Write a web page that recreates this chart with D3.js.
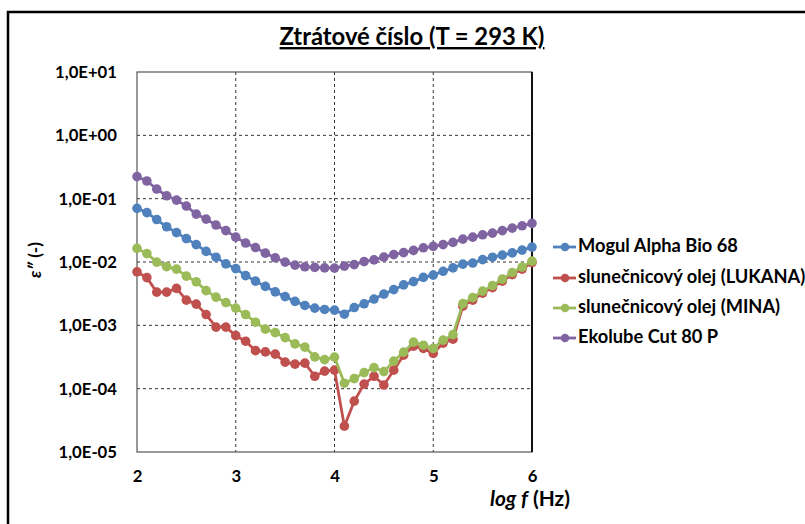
<!DOCTYPE html>
<html><head><meta charset="utf-8">
<script src="https://cdn.jsdelivr.net/npm/d3@7"></script>
<style>body{margin:0;background:#fff;} svg{display:block;}</style>
</head><body>
<script>
const logF = d3.range(0, 41).map(i => +(2 + i * 0.1).toFixed(1));
const mogul = [0.0703,0.0603,0.0468,0.0360,0.0291,0.0234,0.0188,0.0147,0.0119,0.00933,0.00787,0.00610,0.00499,0.00412,0.00338,0.00284,0.00239,0.00206,0.00187,0.00178,0.00174,0.00150,0.00191,0.00219,0.00260,0.00311,0.00366,0.00435,0.00490,0.00571,0.00621,0.00713,0.00807,0.00927,0.00962,0.01091,0.0119,0.01285,0.01393,0.01542,0.01718];
const lukana = [0.00700,0.00567,0.00334,0.00334,0.00383,0.00250,0.00216,0.00148,0.000937,0.000937,0.000687,0.000562,0.000398,0.000381,0.000351,0.000262,0.000244,0.000253,0.000157,0.000189,0.000196,0.0000256,0.0000635,0.000118,0.000157,0.000114,0.000196,0.000338,0.000469,0.000432,0.000360,0.000524,0.000605,0.00201,0.00250,0.00323,0.00394,0.00499,0.00632,0.00773,0.00979];
const mina = [0.01640,0.01358,0.00996,0.00845,0.00773,0.00598,0.00487,0.00353,0.00279,0.00229,0.00187,0.00148,0.00112,0.000871,0.000767,0.000640,0.000509,0.000453,0.000318,0.000287,0.000315,0.000122,0.000144,0.000179,0.000215,0.000186,0.000272,0.000377,0.000543,0.000486,0.000432,0.000584,0.000713,0.00220,0.00274,0.00347,0.00424,0.00537,0.00681,0.00830,0.01033];
const ekolube = [0.223,0.190,0.142,0.111,0.095,0.0764,0.0571,0.0476,0.0383,0.0313,0.0247,0.0199,0.0169,0.0138,0.01164,0.00996,0.00893,0.00840,0.00822,0.00809,0.00801,0.00861,0.00910,0.01014,0.01079,0.01194,0.01309,0.01407,0.01524,0.01675,0.01762,0.01884,0.02041,0.02301,0.0247,0.0269,0.0286,0.0313,0.0343,0.0373,0.0407];
const seriesNames = ["Mogul Alpha Bio 68","slunečnicový olej (LUKANA)","slunečnicový olej (MINA)","Ekolube Cut 80 P"];
const seriesColors = ["#4F81BD","#C0504D","#9BBB59","#8064A2"];
const xTicks = [2,3,4,5,6];
const yTicks = [1e1,1e0,1e-1,1e-2,1e-3,1e-4,1e-5];
const yTickLabels = ["1,0E+01","1,0E+00","1,0E-01","1,0E-02","1,0E-03","1,0E-04","1,0E-05"];
const title = "Ztrátové číslo (T = 293 K)";

const W = 805, H = 524;
const svg = d3.select("body").append("svg").attr("width", W).attr("height", H);
const font = "Lato,'Open Sans',sans-serif";

function fit(sel, target) {
  const node = sel.node();
  const fs = parseFloat(sel.attr("font-size"));
  const w = node.getComputedTextLength();
  const nfs = fs * target / w;
  sel.attr("font-size", nfs);
  return nfs;
}

svg.append("rect").attr("x", 8).attr("y", 12).attr("width", 820).attr("height", 540)
  .attr("fill", "none").attr("stroke", "#000").attr("stroke-width", 2.5);

const L = 137, R = 532, T = 72, B = 452;
const x = d3.scaleLinear().domain([2, 6]).range([L, R]);
const y = d3.scaleLog().domain([1e-5, 1e1]).range([B, T]);

const g = svg.append("g");
g.selectAll(".vg").data(xTicks.slice(1, -1)).join("line")
  .attr("x1", d => x(d)).attr("x2", d => x(d)).attr("y1", T).attr("y2", B)
  .attr("stroke", "#333").attr("stroke-width", 1).attr("stroke-dasharray", "3,3");
g.selectAll(".hg").data(yTicks.slice(1, -1)).join("line")
  .attr("x1", L).attr("x2", R).attr("y1", d => y(d)).attr("y2", d => y(d))
  .attr("stroke", "#333").attr("stroke-width", 1).attr("stroke-dasharray", "3,3");

svg.append("rect").attr("x", L).attr("y", T).attr("width", R - L).attr("height", B - T)
  .attr("fill", "none").attr("stroke", "#555").attr("stroke-width", 1.2);
svg.append("line").attr("x1", R).attr("x2", R).attr("y1", T).attr("y2", B)
  .attr("stroke", "#111").attr("stroke-width", 2);

const yAxis = d3.axisLeft(y).tickValues(yTicks).tickFormat((d, i) => yTickLabels[i]).tickSize(0).tickPadding(20);
const ya = svg.append("g").attr("transform", `translate(${L},0)`).call(yAxis);
ya.select(".domain").remove();
ya.selectAll("text").attr("font-family", font).attr("font-weight", "bold").attr("font-size", 15).attr("fill", "#000");
const tickFs = fit(ya.select("text"), 62);
ya.selectAll("text").attr("font-size", tickFs);

const xAxis = d3.axisBottom(x).tickValues(xTicks).tickFormat(d3.format("d")).tickSize(0).tickPadding(18);
const xa = svg.append("g").attr("transform", `translate(0,${B})`).call(xAxis);
xa.select(".domain").remove();
xa.selectAll("text").attr("font-family", font).attr("font-weight", "bold").attr("font-size", tickFs).attr("fill", "#000");

const data = [mogul, lukana, mina, ekolube];
const line = d3.line().x((d, i) => x(logF[i])).y(d => y(d));
data.forEach((s, k) => {
  const sg = svg.append("g");
  sg.append("path").attr("d", line(s)).attr("fill", "none")
    .attr("stroke", seriesColors[k]).attr("stroke-width", 2.8).attr("stroke-linejoin", "round");
  sg.selectAll("circle").data(s).join("circle")
    .attr("cx", (d, i) => x(logF[i])).attr("cy", d => y(d)).attr("r", 4.8)
    .attr("fill", seriesColors[k]);
});

const tt = svg.append("text").attr("x", 412).attr("y", 45).attr("text-anchor", "middle")
  .attr("font-family", font).attr("font-weight", "bold").attr("font-size", 20)
  .attr("text-decoration", "underline").text(title);
fit(tt, 265);

const yl = svg.append("text").attr("transform", "translate(41,260) rotate(-90)").attr("text-anchor", "middle")
  .attr("font-family", font).attr("font-weight", "bold").attr("font-size", 16)
  .html('<tspan font-style="italic">ε″</tspan> (-)');
fit(yl, 36);

const xl = svg.append("text").attr("x", 530).attr("y", 506).attr("text-anchor", "middle")
  .attr("font-family", font).attr("font-weight", "bold").attr("font-size", 16)
  .html('<tspan font-style="italic">log f</tspan> (Hz)');
fit(xl, 80);

const legY = [247, 278, 308, 338];
const lg = svg.append("g");
let legFs = null;
seriesNames.forEach((n, k) => {
  lg.append("line").attr("x1", 553).attr("x2", 576).attr("y1", legY[k]).attr("y2", legY[k])
    .attr("stroke", seriesColors[k]).attr("stroke-width", 2.8);
  lg.append("circle").attr("cx", 565).attr("cy", legY[k]).attr("r", 4.3).attr("fill", seriesColors[k]);
  const t = lg.append("text").attr("x", 578).attr("y", legY[k] + 5)
    .attr("font-family", font).attr("font-weight", "bold").attr("font-size", legFs || 15).text(n);
  if (k === 0) legFs = fit(t, 160);
});
</script>
</body></html>
